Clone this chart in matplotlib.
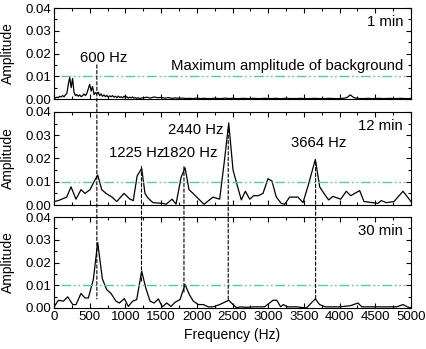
import numpy as np
import matplotlib
matplotlib.use('Agg')
import matplotlib.pyplot as plt
from matplotlib.patches import ConnectionPatch
from matplotlib.ticker import MultipleLocator

plt.rcParams['font.family'] = ['Liberation Sans', 'DejaVu Sans']

# 1 min spectrum (amplitude x1e-3)
f1_low = np.arange(0, 1201, 20)
a1_low = [0.2, 0.5, 0.8, 0.6, 1.2, 0.9, 1.5, 1.0, 1.8, 2.5, 6.5, 9.5, 5.0, 9.0, 3.0, 1.5,
          2.0, 1.2, 1.8, 1.0, 1.5, 2.2, 1.5, 2.5, 4.5, 6.5, 3.5, 5.5, 2.0, 2.8, 2.2, 3.0,
          1.5, 2.2, 1.2, 1.8, 1.0, 1.6, 0.8, 1.4, 1.0, 1.5, 0.8, 1.2, 0.6, 1.3, 0.7, 1.0,
          0.5, 1.2, 0.6, 1.0, 0.4, 0.8, 0.5, 0.9, 0.4, 0.6, 0.3, 0.5, 0.3]
f1_high = np.arange(1250, 5001, 50)
a1_high = [0.5, 0.8, 0.4, 0.9, 0.6, 0.7, 0.4, 0.6, 0.3, 0.5, 0.3, 0.4, 0.2, 0.3, 0.2, 0.4,
           0.2, 0.3, 0.2, 0.2, 0.3, 0.2, 0.2, 0.4, 0.2, 0.3, 0.2, 0.2, 0.3, 0.2, 0.2, 0.3,
           0.2, 0.2, 0.3, 0.2, 0.2, 0.3, 0.2, 0.2, 0.3, 0.2, 0.2, 0.2, 0.3, 0.2, 0.2, 0.2,
           0.3, 0.2, 0.2, 0.2, 0.3, 0.2, 0.2, 0.2, 0.3, 0.6, 1.8, 0.6, 0.3, 0.2, 0.2, 0.3,
           0.2, 0.2, 0.3, 0.2, 0.2, 0.3, 0.2, 0.2, 0.3, 0.2, 0.2, 0.2]
freq1 = np.concatenate([f1_low, f1_high])
amp1 = np.array(a1_low + a1_high) / 1000

# 12 min spectrum
freq2 = [0, 60, 178, 238, 308, 378, 434, 504, 560, 612, 668, 728, 812, 878, 980, 1064, 1110,
         1164, 1228, 1274, 1316, 1387, 1527, 1570, 1653, 1709, 1779, 1835, 1891, 1947, 2045,
         2101, 2227, 2320, 2390, 2447, 2507, 2563, 2623, 2680, 2741, 2797, 2860, 2927, 2997,
         3053, 3113, 3183, 3230, 3300, 3417, 3487, 3557, 3660, 3721, 3781, 3846, 3907, 4015,
         4094, 4155, 4281, 4341, 4467, 4537, 4584, 4654, 4762, 4888, 5000]
amp2 = [1.5, 1.9, 3.4, 7.8, 2.5, 6.6, 5.0, 6.6, 10.0, 12.9, 6.6, 5.0, 3.4, 1.5, 5.0, 2.5, 1.9,
        12.5, 15.7, 5.0, 3.0, 1.0, 0.7, 0.3, 2.5, 0.4, 11.8, 16.0, 6.6, 5.0, 2.0, 0.3, 3.4, 2.5,
        19.9, 35.3, 15.1, 8.8, 2.2, 5.9, 2.5, 4.0, 4.0, 5.0, 11.3, 10.3, 3.4, 0.7, 0.3, 3.4, 3.4,
        1.0, 8.1, 19.6, 7.8, 5.0, 2.2, 3.7, 2.5, 5.9, 4.0, 6.2, 1.5, 1.0, 0.7, 1.9, 1.0, 1.5,
        5.9, 1.5]
amp2 = np.array(amp2) / 1000

# 30 min spectrum
freq3 = [0, 61, 131, 192, 262, 308, 378, 434, 481, 551, 612, 677, 738, 798, 868, 915, 985,
         1041, 1102, 1158, 1228, 1284, 1345, 1401, 1461, 1517, 1578, 1639, 1695, 1765, 1835,
         1895, 1951, 2021, 2091, 2161, 2227, 2320, 2447, 2507, 2563, 2600, 2700, 2800, 2950,
         3067, 3120, 3175, 3210, 3270, 3400, 3534, 3660, 3720, 3800, 3900, 4000, 4150, 4258,
         4310, 4400, 4500, 4600, 4700, 4800, 4888, 4950, 5000]
amp3 = [0.5, 3.4, 3.0, 4.9, 1.5, 1.5, 6.4, 4.4, 4.4, 12.6, 28.8, 12.8, 8.1, 6.4, 3.0, 2.2, 4.1,
        0.7, 3.0, 3.7, 16.2, 8.9, 3.0, 2.2, 4.0, 0.5, 2.2, 0.7, 2.5, 3.7, 10.3, 5.9, 3.0, 1.5,
        1.5, 0.5, 0.5, 1.5, 3.4, 1.5, 0.0, 0.5, 0.3, 0.5, 0.5, 3.4, 3.4, 0.5, 1.5, 0.5, 0.5,
        0.0, 4.0, 1.5, 0.5, 0.5, 0.5, 1.0, 2.2, 0.5, 0.5, 0.5, 0.5, 0.5, 0.5, 1.5, 0.5, 0.0]
amp3 = np.array(amp3) / 1000

times = ['1 min', '12 min', '30 min']
background = 0.01
# (freq, start panel, start value, end value in bottom panel)
markers = [(600, 0, 0.015, 0.004), (1225, 1, 0.0165, 0.011), (1820, 1, 0.0165, 0.007),
           (2440, 1, 0.0325, 0.003), (3664, 1, 0.0185, 0.004)]
peak_labels = [('600 Hz', 0, 690, 0.018), ('1225 Hz', 1, 1155, 0.0222),
               ('1820 Hz', 1, 1905, 0.0222), ('2440 Hz', 1, 1985, 0.0322),
               ('3664 Hz', 1, 3705, 0.0265)]

fig = plt.figure(figsize=(4.26, 3.49), dpi=100)
boxes = [[0.1268, 0.7163, 0.838, 0.2607],
         [0.1268, 0.4126, 0.838, 0.2665],
         [0.1268, 0.1175, 0.838, 0.2607]]
axes = [fig.add_axes(b) for b in boxes]
data = [(freq1, amp1), (freq2, amp2), (freq3, amp3)]

for i, ax in enumerate(axes):
    ax.plot(data[i][0], data[i][1], color='black', lw=0.9)
    ax.plot([100, 4910], [background, background], color='#5cc894', lw=1.0,
            ls=(0, (7, 2, 1.2, 2, 1.2, 2)))
    ax.set_xlim(0, 5000)
    ax.set_ylim(0, 0.04)
    ax.xaxis.set_major_locator(MultipleLocator(500))
    ax.xaxis.set_minor_locator(MultipleLocator(250))
    ax.yaxis.set_major_locator(MultipleLocator(0.01))
    ax.yaxis.set_minor_locator(MultipleLocator(0.005))
    ax.yaxis.set_major_formatter(lambda v, p: '%.2f' % v)
    ax.tick_params(which='both', direction='in', top=True, right=True, labelsize=9.5, pad=2)
    ax.tick_params(which='major', length=3.5, width=0.8)
    ax.tick_params(which='minor', length=2, width=0.8)
    for s in ax.spines.values():
        s.set_linewidth(0.8)
    ax.set_ylabel('Amplitude', fontsize=10)
    ax.yaxis.set_label_coords(-0.11, 0.5)
    ax.text(0.978, 0.85, times[i], transform=ax.transAxes, ha='right', va='center', fontsize=10.7)
    if i < 2:
        ax.tick_params(labelbottom=False)

axes[2].set_xlabel('Frequency (Hz)', fontsize=10, labelpad=4)
axes[0].text(4888, 0.0145, 'Maximum amplitude of background', ha='right', va='center', fontsize=10.7)

for text, k, x, y in peak_labels:
    axes[k].text(x, y, text, ha='center', va='center', fontsize=10.7)

for f, k, y0, y1 in markers:
    con = ConnectionPatch(xyA=(f, y0), coordsA=axes[k].transData,
                          xyB=(f, y1), coordsB=axes[2].transData,
                          color='black', lw=0.8, ls=(0, (3, 2)))
    fig.add_artist(con)

fig.savefig('out.png', dpi=100)
